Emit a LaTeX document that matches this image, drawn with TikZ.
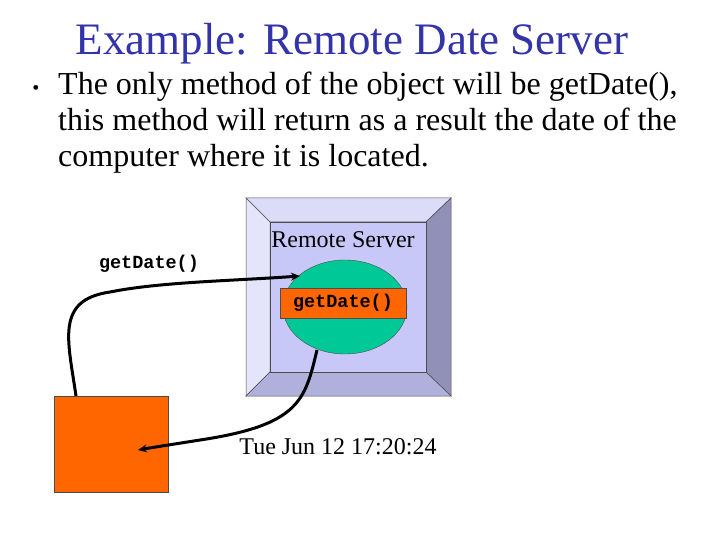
\documentclass[tikz,border=0pt]{standalone}
\usepackage{fontspec}
\setmainfont{Liberation Serif}
\newfontfamily\codefont{Liberation Mono}
\usetikzlibrary{arrows.meta,shapes.geometric}
\definecolor{titleblue}{HTML}{3333AA}
\definecolor{inner}{HTML}{C8C8F8}
\definecolor{btop}{HTML}{DCDCF8}
\definecolor{bleft}{HTML}{E4E4FA}
\definecolor{bright}{HTML}{9090B8}
\definecolor{bbot}{HTML}{B0B0DC}
\definecolor{ellg}{HTML}{00C896}
\definecolor{orng}{HTML}{FF6600}
\tikzset{conn/.style={line width=3pt,-{Stealth[length=9pt,width=8pt]}},
 bev/.style={draw=black!70,line width=0.5pt},
 code/.style={font=\codefont\bfseries\fontsize{18.5}{20}\selectfont}}
\begin{document}
\begin{tikzpicture}[x=1pt,y=-1pt]
\useasboundingbox (0,0) rectangle (720,540);
\node[text=titleblue,font=\fontsize{45}{48}\selectfont] (title) at (352,44) {Example: Remote Date Server};
\node[font=\fontsize{20}{24}\selectfont] (bul) at (36,90) {•};
\node[anchor=north west,align=left,inner sep=0pt,font=\fontsize{32}{36}\selectfont] (txt) at (58,72) {The only method of the object will be getDate(),\\this method will return as a result the date of the\\computer where it is located.};
% bevel box
\fill[btop,bev] (246,198) -- (451,198) -- (426,222) -- (270,222) -- cycle;
\fill[bleft,bev] (246,198) -- (270,222) -- (270,372) -- (246,396) -- cycle;
\fill[bright,bev] (451,198) -- (451,396) -- (426,372) -- (426,222) -- cycle;
\fill[bbot,bev] (246,396) -- (451,396) -- (426,372) -- (270,372) -- cycle;
\node[fill=inner,draw=black!70,line width=0.5pt,minimum width=156pt,minimum height=150pt,inner sep=0pt] (srv) at (348,297) {};
\node[font=\fontsize{24}{26}\selectfont] (srvlbl) at (343,240) {Remote Server};
\node[ellipse,fill=ellg,draw=black!70,minimum width=124pt,minimum height=94pt] (obj) at (345,307) {};
\node[fill=orng,draw=black!70,minimum width=126pt,minimum height=30pt,inner sep=0pt,code] (meth) at (343,303) {getDate()};
\node[fill=orng,draw=black!70,minimum width=114pt,minimum height=96pt,inner sep=0pt] (client) at (111,444) {};
\node[code] (call) at (149,264) {getDate()};
\node[font=\fontsize{24}{26}\selectfont] (date) at (338,447) {Tue Jun 12 17:20:24};
\coordinate (c1s) at (76,396);
\coordinate (c1e) at (300,276);
\coordinate (c2s) at (317,350);
\coordinate (c2e) at (138,450);
\draw[conn] (c1s) .. controls (68,340) and (55,300) .. (110,292) .. controls (160,282) and (230,281) .. (c1e);
\draw[conn] (c2s) .. controls (305,400) and (300,425) .. (200,440) .. controls (175,444) and (155,447) .. (c2e);
\end{tikzpicture}
\end{document}
